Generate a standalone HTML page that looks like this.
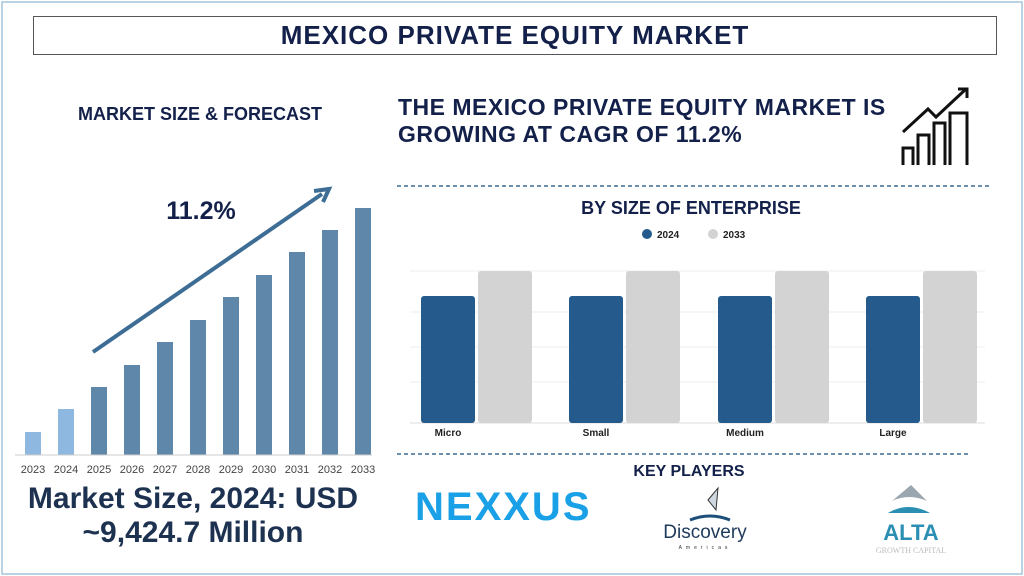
<!DOCTYPE html>
<html><head><style>
body{margin:0;width:1024px;height:576px;background:#fff;font-family:"Liberation Sans",sans-serif;position:relative;overflow:hidden}
.a{position:absolute}
.t{color:#13204a;font-weight:bold}
</style></head><body>
<div class="a" style="left:1px;top:1px;width:1018px;height:570px;border:2px solid #b9d3e3"></div>
<div class="a" style="left:33px;top:16px;width:962px;height:37px;border:1px solid #555"></div>
<div class="a t" style="left:33px;top:20px;width:964px;text-align:center;font-size:26px;letter-spacing:1px">MEXICO PRIVATE EQUITY MARKET</div>
<div class="a t" style="left:78px;top:104px;font-size:18px">MARKET SIZE &amp; FORECAST</div>
<div class="a t" style="left:398px;top:94px;font-size:23px;line-height:27px;letter-spacing:0.5px">THE MEXICO PRIVATE EQUITY MARKET IS<br>GROWING AT CAGR OF 11.2%</div>
<svg class="a" style="left:0;top:0" width="1024" height="576">
<g fill="none" stroke="#111" stroke-width="3"><path d="M903 165v-17h10v17M918 165v-30h11v30M934 165v-42h11v42M950 165v-52h17v52"/><path d="M903 132l25-23 8 8 30-28"/><path d="M958 89h9v9"/></g>
<line x1="397" y1="186" x2="990" y2="186" stroke="#3a6a90" stroke-width="1.5" stroke-dasharray="4,3"/>
<line x1="397" y1="454" x2="968" y2="454" stroke="#3a6a90" stroke-width="1.5" stroke-dasharray="4,3"/>
<g stroke="#eee"><line x1="410" y1="271" x2="985" y2="271"/><line x1="410" y1="312" x2="985" y2="312"/><line x1="410" y1="347" x2="985" y2="347"/><line x1="410" y1="382" x2="985" y2="382"/><line x1="410" y1="423" x2="985" y2="423" stroke="#ddd"/></g>
<g fill="#245b8c"><rect x="421" y="296" width="54" height="127" rx="3"/><rect x="569" y="296" width="54" height="127" rx="3"/><rect x="718" y="296" width="54" height="127" rx="3"/><rect x="866" y="296" width="54" height="127" rx="3"/></g>
<g fill="#d3d3d3"><rect x="478" y="271" width="54" height="152" rx="3"/><rect x="626" y="271" width="54" height="152" rx="3"/><rect x="775" y="271" width="54" height="152" rx="3"/><rect x="923" y="271" width="54" height="152" rx="3"/></g>
<circle cx="647" cy="234" r="5" fill="#245b8c"/><circle cx="713" cy="234" r="5" fill="#d3d3d3"/>
<g font-size="10" font-weight="bold" fill="#222" font-family="Liberation Sans"><text x="657" y="238">2024</text><text x="723" y="238">2033</text>
<text x="448" y="436" text-anchor="middle">Micro</text><text x="596" y="436" text-anchor="middle">Small</text><text x="745" y="436" text-anchor="middle">Medium</text><text x="893" y="436" text-anchor="middle">Large</text></g>
<text x="691" y="214" text-anchor="middle" font-size="18" font-weight="bold" fill="#13204a" font-family="Liberation Sans">BY SIZE OF ENTERPRISE</text>
<g fill="#5f87aa">
<rect x="25" y="432" width="16" height="23" fill="#8fb8e0"/><rect x="58" y="409" width="16" height="46" fill="#8fb8e0"/>
<rect x="91" y="387" width="16" height="68"/><rect x="124" y="365" width="16" height="90"/><rect x="157" y="342" width="16" height="113"/><rect x="190" y="320" width="16" height="135"/><rect x="223" y="297" width="16" height="158"/><rect x="256" y="275" width="16" height="180"/><rect x="289" y="252" width="16" height="203"/><rect x="322" y="230" width="16" height="225"/><rect x="355" y="208" width="16" height="247"/></g>
<line x1="15" y1="455" x2="372" y2="455" stroke="#ccc"/>
<line x1="93" y1="352" x2="322" y2="194" stroke="#3d6d95" stroke-width="4"/>
<path d="M314 191l15-2-6 13" fill="none" stroke="#3d6d95" stroke-width="4"/>
<g font-size="11" fill="#444" text-anchor="middle" font-family="Liberation Sans"><text x="33" y="473">2023</text><text x="66" y="473">2024</text><text x="99" y="473">2025</text><text x="132" y="473">2026</text><text x="165" y="473">2027</text><text x="198" y="473">2028</text><text x="231" y="473">2029</text><text x="264" y="473">2030</text><text x="297" y="473">2031</text><text x="330" y="473">2032</text><text x="363" y="473">2033</text></g>
<text x="201" y="219" text-anchor="middle" font-size="25" font-weight="bold" fill="#13204a" font-family="Liberation Sans">11.2%</text>
<text x="689" y="476" text-anchor="middle" font-size="16" font-weight="bold" fill="#13204a" font-family="Liberation Sans">KEY PLAYERS</text>
<text x="415" y="520" font-size="40" font-weight="bold" fill="#1aa0e6" font-family="Liberation Sans" letter-spacing="2">NEXXUS</text>
<path d="M708 500l10-12-2 22z" fill="#cfd8e0" stroke="#333"/><path d="M690 520q20-8 40 0" stroke="#1d4f7a" fill="none" stroke-width="3"/>
<text x="705" y="538" text-anchor="middle" font-size="19" fill="#1d3a5a" font-family="Liberation Sans">Discovery</text>
<text x="705" y="549" text-anchor="middle" font-size="5" fill="#333" letter-spacing="4">Americas</text>
<path d="M892 501l19-16 16 16q-18-8-35 0z" fill="#9aa6b0"/><path d="M888 513q20-12 42 0z" fill="#2a8fb3"/>
<text x="911" y="540" text-anchor="middle" font-size="22" font-weight="bold" fill="#2a8fb3" font-family="Liberation Sans">ALTA</text>
<text x="911" y="553" text-anchor="middle" font-size="8" fill="#bbb" font-family="Liberation Serif">GROWTH CAPITAL</text>
</svg>
<div class="a t" style="left:0px;top:482px;width:386px;text-align:center;font-size:30px;line-height:34px;color:#1d3150">Market Size, 2024: USD<br>~9,424.7 Million</div>
</body></html>
